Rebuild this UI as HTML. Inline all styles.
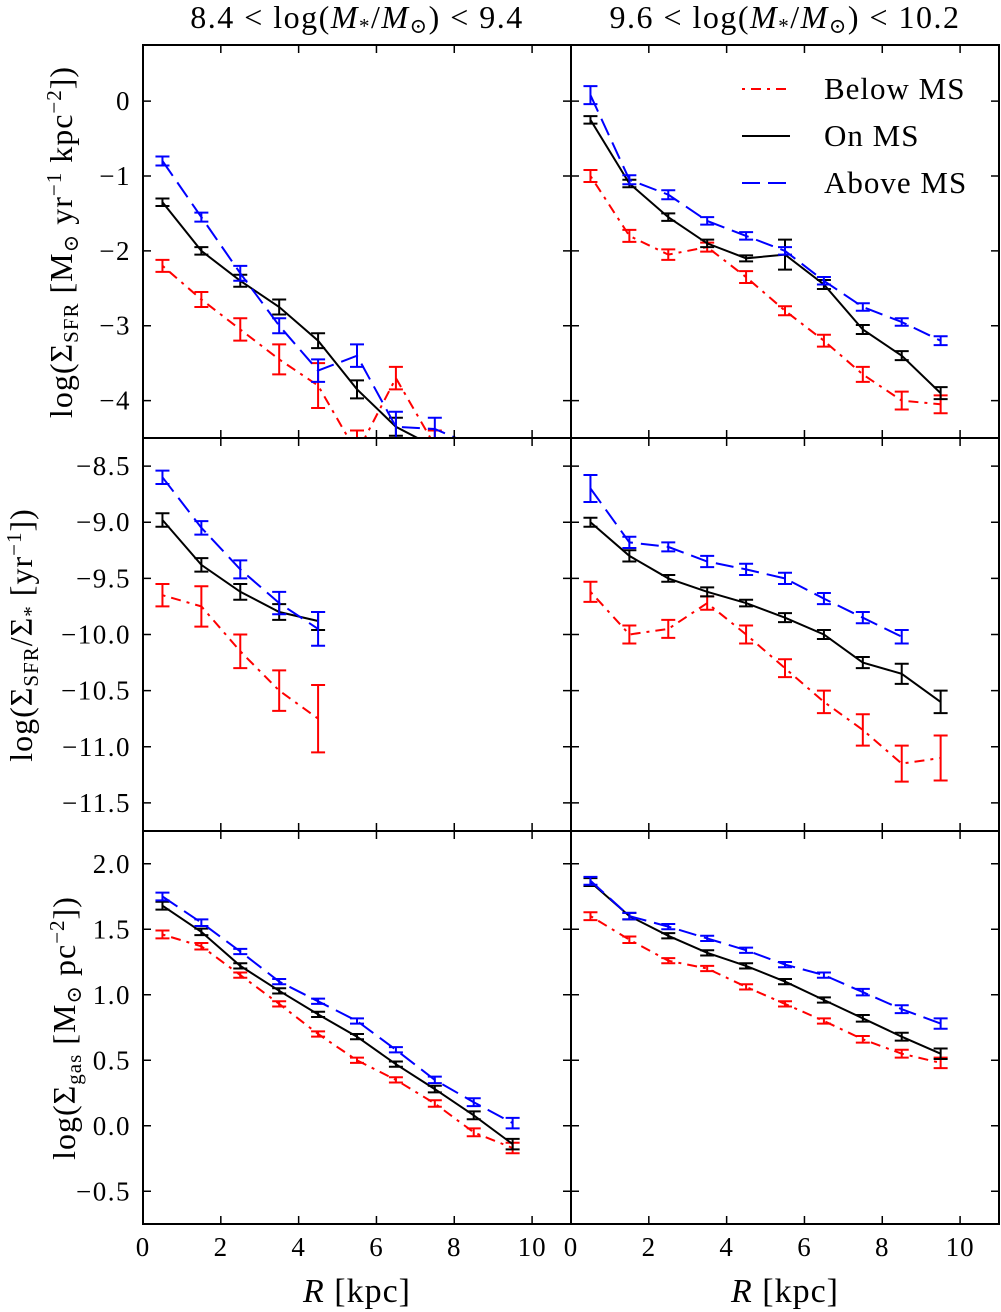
<!DOCTYPE html>
<html><head><meta charset="utf-8"><style>
body{margin:0;background:#fff}
svg{display:block;font-family:"Liberation Serif","DejaVu Serif",serif}
</style></head><body>
<svg id="fig" width="1001" height="1312" viewBox="0 0 1001 1312" xmlns="http://www.w3.org/2000/svg">
<defs>
<clipPath id="c0"><rect x="143" y="45" width="428" height="393"/></clipPath>
<clipPath id="c1"><rect x="571" y="45" width="428" height="393"/></clipPath>
<clipPath id="c2"><rect x="143" y="438" width="428" height="393"/></clipPath>
<clipPath id="c3"><rect x="571" y="438" width="428" height="393"/></clipPath>
<clipPath id="c4"><rect x="143" y="831" width="428" height="393"/></clipPath>
<clipPath id="c5"><rect x="571" y="831" width="428" height="393"/></clipPath>
</defs>
<text x="357" y="28" font-size="32" letter-spacing="1.5" text-anchor="middle">8.4 &lt; log(<tspan font-style="italic">M</tspan><tspan font-size="21" dy="5">*</tspan><tspan dy="-5">/</tspan><tspan font-style="italic">M</tspan><tspan font-size="21" dy="5">⊙</tspan><tspan dy="-5">) &lt; 9.4</tspan></text>
<text x="785" y="28" font-size="32" letter-spacing="1.5" text-anchor="middle">9.6 &lt; log(<tspan font-style="italic">M</tspan><tspan font-size="21" dy="5">*</tspan><tspan dy="-5">/</tspan><tspan font-style="italic">M</tspan><tspan font-size="21" dy="5">⊙</tspan><tspan dy="-5">) &lt; 10.2</tspan></text>
<text transform="translate(72,242) rotate(-90)" font-size="32" letter-spacing="1" text-anchor="middle">log(Σ<tspan font-size="21" dy="6">SFR</tspan><tspan dy="-6"> [M</tspan><tspan font-size="21" dy="6">⊙</tspan><tspan dy="-6"> yr</tspan><tspan font-size="21" dy="-11">−1</tspan><tspan dy="11"> kpc</tspan><tspan font-size="21" dy="-11">−2</tspan><tspan dy="11">])</tspan></text>
<text transform="translate(32,635) rotate(-90)" font-size="32" letter-spacing="1" text-anchor="middle">log(Σ<tspan font-size="21" dy="6">SFR</tspan><tspan dy="-6">/Σ</tspan><tspan font-size="21" dy="6">*</tspan><tspan dy="-6"> [yr</tspan><tspan font-size="21" dy="-11">−1</tspan><tspan dy="11">])</tspan></text>
<text transform="translate(75,1028) rotate(-90)" font-size="32" letter-spacing="1" text-anchor="middle">log(Σ<tspan font-size="21" dy="6">gas</tspan><tspan dy="-6"> [M</tspan><tspan font-size="21" dy="6">⊙</tspan><tspan dy="-6"> pc</tspan><tspan font-size="21" dy="-11">−2</tspan><tspan dy="11">])</tspan></text>
<text x="357" y="1302" font-size="34" letter-spacing="1" text-anchor="middle"><tspan font-style="italic">R</tspan> [kpc]</text>
<text x="785" y="1302" font-size="34" letter-spacing="1" text-anchor="middle"><tspan font-style="italic">R</tspan> [kpc]</text>
<g id="g"></g>
</svg>
<script>
const radii=[0.5,1.5,2.5,3.5,4.5,5.5,6.5,7.5,8.5,9.5];
const xTicks=[0,2,4,6,8,10];
// panel 0: SFR low mass
const p0Black=[-1.35,-2.0,-2.4,-2.75,-3.2,-3.85,-4.35,-4.62];
const p0BlackErr=[0.05,0.05,0.08,0.1,0.1,0.12,0.12,0.1];
const p0Blue=[-0.8,-1.55,-2.3,-3.0,-3.6,-3.4,-4.35,-4.38,-4.6];
const p0BlueErr=[0.06,0.06,0.1,0.1,0.15,0.15,0.2,0.15,0.1];
const p0Red=[-2.2,-2.65,-3.05,-3.45,-3.8,-4.7,-3.7,-4.6];
const p0RedErr=[0.08,0.1,0.15,0.2,0.3,0.3,0.15,0.2];
// panel 1: SFR high mass
const p1Black=[-0.25,-1.1,-1.55,-1.9,-2.1,-2.05,-2.45,-3.05,-3.4,-3.9];
const p1BlackErr=[0.05,0.05,0.05,0.05,0.04,0.2,0.06,0.06,0.06,0.08];
const p1Blue=[0.08,-1.05,-1.25,-1.6,-1.8,-2.0,-2.4,-2.75,-2.95,-3.2];
const p1BlueErr=[0.12,0.06,0.06,0.05,0.05,0.05,0.05,0.05,0.05,0.06];
const p1Red=[-1.0,-1.8,-2.05,-1.95,-2.35,-2.8,-3.2,-3.65,-4.0,-4.05];
const p1RedErr=[0.08,0.08,0.07,0.06,0.08,0.06,0.08,0.1,0.12,0.12];
// panel 2: sSFR low mass
const p2Black=[-8.98,-9.38,-9.62,-9.8,-9.88];
const p2BlackErr=[0.06,0.06,0.07,0.07,0.08];
const p2Blue=[-8.6,-9.05,-9.42,-9.72,-9.95];
const p2BlueErr=[0.06,0.06,0.08,0.1,0.15];
const p2Red=[-9.65,-9.75,-10.15,-10.5,-10.75];
const p2RedErr=[0.1,0.18,0.15,0.18,0.3];
// panel 3: sSFR high mass
const p3Black=[-9.0,-9.3,-9.5,-9.62,-9.72,-9.85,-10.0,-10.25,-10.35,-10.6];
const p3BlackErr=[0.04,0.05,0.03,0.04,0.03,0.04,0.04,0.05,0.09,0.1];
const p3Blue=[-8.7,-9.18,-9.22,-9.35,-9.42,-9.5,-9.68,-9.85,-10.02];
const p3BlueErr=[0.12,0.05,0.04,0.05,0.05,0.05,0.05,0.05,0.06];
const p3Red=[-9.62,-10.0,-9.95,-9.72,-10.0,-10.3,-10.6,-10.85,-11.15,-11.1];
const p3RedErr=[0.09,0.08,0.08,0.06,0.08,0.08,0.1,0.14,0.16,0.2];
// panel 4: gas low mass
const p4Black=[1.68,1.48,1.22,1.03,0.85,0.68,0.47,0.28,0.08,-0.14];
const p4Blue=[1.75,1.55,1.33,1.1,0.95,0.8,0.58,0.35,0.18,0.02];
const p4Red=[1.46,1.37,1.15,0.93,0.7,0.5,0.35,0.17,-0.05,-0.17];
// panel 5: gas high mass
const p5Black=[1.86,1.6,1.45,1.32,1.22,1.1,0.96,0.82,0.68,0.55];
const p5Blue=[1.87,1.6,1.52,1.43,1.34,1.23,1.15,1.02,0.89,0.78];
const p5Red=[1.6,1.42,1.26,1.2,1.06,0.93,0.8,0.66,0.55,0.48];
const gasErr=[0.03,0.025,0.02,0.02,0.02,0.02,0.02,0.025,0.03,0.04];
const ticksSFR=[0,-1,-2,-3,-4];
const ticksSSFR=[-8.5,-9.0,-9.5,-10.0,-10.5,-11.0,-11.5];
const ticksGas=[2.0,1.5,1.0,0.5,0.0,-0.5];

const NS="http://www.w3.org/2000/svg";
const G=document.getElementById('g');
function mk(tag,attrs,parent){const e=document.createElementNS(NS,tag);for(const k in attrs)e.setAttribute(k,attrs[k]);(parent||G).appendChild(e);return e;}
const cols=[143,571],rows=[45,438,831],W=428,H=393;
const yr=[[-4.5,0.75],[-11.75,-8.25],[-0.75,2.25]];
const ytk=[ticksSFR,ticksSSFR,ticksGas];
const ylab=[v=>v===0?'0':'−'+Math.abs(v),v=>'−'+Math.abs(v).toFixed(1),v=>(v<0?'−':'')+Math.abs(v).toFixed(1)];
const panels=[
 [[p0Red,p0RedErr],[p0Black,p0BlackErr],[p0Blue,p0BlueErr]],
 [[p1Red,p1RedErr],[p1Black,p1BlackErr],[p1Blue,p1BlueErr]],
 [[p2Red,p2RedErr],[p2Black,p2BlackErr],[p2Blue,p2BlueErr]],
 [[p3Red,p3RedErr],[p3Black,p3BlackErr],[p3Blue,p3BlueErr]],
 [[p4Red,gasErr],[p4Black,gasErr],[p4Blue,gasErr]],
 [[p5Red,gasErr],[p5Black,gasErr],[p5Blue,gasErr]]];
const styles=[{c:'#ff0000',d:'3,6,10,6',n:'below-ms'},{c:'#000000',d:'',n:'on-ms'},{c:'#0000ff',d:'18,8',n:'above-ms'}];
panels.forEach((ser,pi)=>{
 const r=Math.floor(pi/2),c=pi%2,x0=cols[c],y0=rows[r];
 const [lo,hi]=yr[r];
 const X=v=>x0+v/11*W, Y=v=>y0+(hi-v)/(hi-lo)*H;
 const g=mk('g',{'clip-path':'url(#c'+pi+')'});
 
 
 ser.forEach((s,si)=>{
  const st=styles[si],vals=s[0],err=s[1];
  const pts=vals.map((v,i)=>X(radii[i]).toFixed(1)+','+Y(v).toFixed(1)).join(' ');
  const pl=mk('polyline',{points:pts,fill:'none',stroke:st.c,'stroke-width':2,'stroke-dasharray':st.d},g);
  
  
  vals.forEach((v,i)=>{
   const xx=X(radii[i]),a=Y(v+err[i]),b=Y(v-err[i]);
   const eb=mk('path',{d:`M${xx},${a}V${b}M${xx-7},${a}H${xx+7}M${xx-7},${b}H${xx+7}`,stroke:st.c,'stroke-width':2,fill:'none'},g);
   
   
  });
 });
 xTicks.forEach(t=>{const xx=X(t);mk('path',{d:`M${xx},${y0+H}v-8M${xx},${y0}v8`,stroke:'#000','stroke-width':1.5});});
 ytk[r].forEach(t=>{const yy=Y(t);mk('path',{d:`M${x0},${yy}h8M${x0+W},${yy}h-8`,stroke:'#000','stroke-width':1.5});
  if(c===0){const tx=mk('text',{x:x0-12,y:yy+9,'font-size':27,'letter-spacing':1.5,'text-anchor':'end'});tx.textContent=ylab[r](t);
   
   }});
 if(r===2){xTicks.forEach(t=>{const tx=mk('text',{x:X(t),y:1256,'font-size':27,'letter-spacing':1,'text-anchor':'middle'});tx.textContent=String(t);
   
   });}
 const fr=mk('rect',{x:x0,y:y0,width:W,height:H,fill:'none',stroke:'#000','stroke-width':2});
 
 
});
const names=['Below MS','On MS','Above MS'];
styles.forEach((st,i)=>{const y=89+i*47;
 const l=mk('line',{x1:742,x2:790,y1:y,y2:y,stroke:st.c,'stroke-width':2,'stroke-dasharray':st.d});
 
 
 const t=mk('text',{x:824,y:y+10,'font-size':31,'letter-spacing':1});t.textContent=names[i];
 
 
});
</script>
</body></html>
